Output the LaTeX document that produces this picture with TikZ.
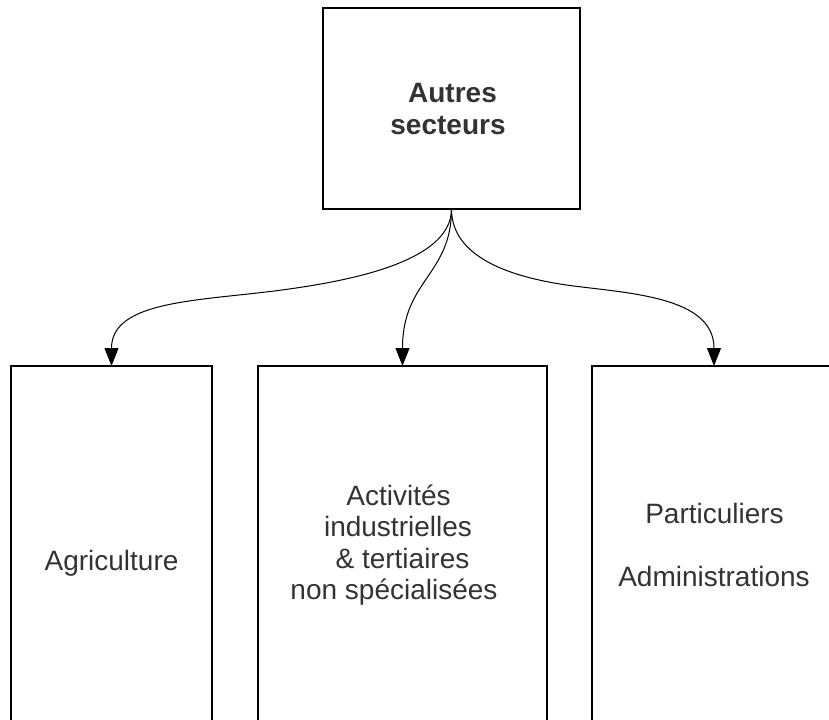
\documentclass[tikz,border=0pt]{standalone}
\usepackage{fontspec}
\setmainfont{Liberation Sans}
\usetikzlibrary{arrows.meta}
\definecolor{txt}{RGB}{51,51,51}
\begin{document}
\begin{tikzpicture}[x=0.75pt,y=-0.75pt,
  box/.style={draw=black, line width=0.8pt, inner sep=0pt, outer sep=0pt},
  lbl/.style={text=txt, font=\fontsize{21}{23}\selectfont, anchor=base, inner sep=0pt},
  blbl/.style={text=txt, font=\fontsize{21}{24}\selectfont\bfseries, anchor=base, inner sep=0pt},
  arr/.style={-{Triangle[length=13.5pt,width=10.5pt]}, line width=0.75pt, draw=black}]
\useasboundingbox (0,0) rectangle (829,719);
\clip (0,0) rectangle (829,719);
% boxes
\node[box, minimum width=192.75pt, minimum height=150.75pt] (top) at (451.5,108.5) {};
\node[box, anchor=north, minimum width=150.75pt, minimum height=300pt] (agri) at (111.5,366) {};
\node[box, anchor=north, minimum width=216.75pt, minimum height=300pt] (acti) at (402.5,366) {};
\node[box, anchor=north, minimum width=183pt, minimum height=300pt] (part) at (714,366) {};
% texts
\node[blbl] (t1) at (452.5,102) {Autres};
\node[blbl] (t2) at (448,134) {secteurs};
\node[lbl] (a1) at (111.5,570) {Agriculture};
\node[lbl] (m1) at (398.5,505) {Activités};
\node[lbl] (m2) at (398,536.5) {industrielles};
\node[lbl] (m3) at (402.5,568) {\& tertiaires};
\node[lbl] (m4) at (394,599) {non spécialisées};
\node[lbl] (p1) at (714.5,523) {Particuliers};
\node[lbl] (p2) at (714,586) {Administrations};
% connectors
\draw[arr] (top.south) .. controls +(0,55) and (340,282) .. (282,290)
  .. controls (200,301) and +(0,-66) .. (agri.north);
\draw[arr] (top.south) .. controls +(0,66) and +(0,-86) .. (acti.north);
\draw[arr] (top.south) .. controls +(0,52) and (520,280) .. (582,287)
  .. controls (640,294) and +(0,-66) .. (part.north);
\end{tikzpicture}
\end{document}
